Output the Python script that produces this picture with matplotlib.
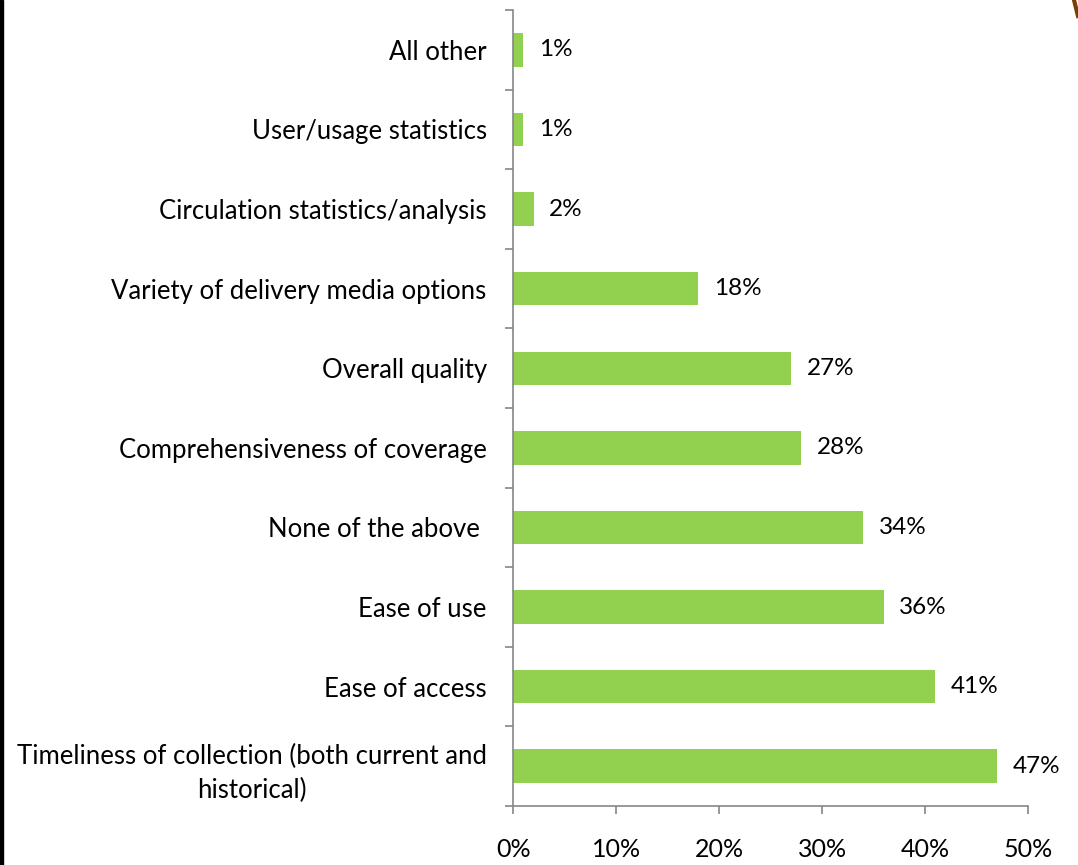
import numpy as np
import matplotlib
matplotlib.use('Agg')
import matplotlib.pyplot as plt
from matplotlib.patches import Rectangle
from matplotlib.lines import Line2D

categories = ['Timeliness of collection (both current and\nhistorical)',
              'Ease of access',
              'Ease of use',
              'None of the above ',
              'Comprehensiveness of coverage',
              'Overall quality',
              'Variety of delivery media options',
              'Circulation statistics/analysis',
              'User/usage statistics',
              'All other']
values = [47, 41, 36, 34, 28, 27, 18, 2, 1, 1]
xticks = [0, 10, 20, 30, 40, 50]

plt.rcParams['font.family'] = ['Lato', 'DejaVu Sans']

fig = plt.figure(figsize=(10.78, 8.65), dpi=100)
ax = fig.add_axes([0.476, 0.0682, 0.4776, 0.9202])

y = np.arange(len(categories))
ax.barh(y, values, height=0.42, color='#92D050', zorder=2)
for yi, v in zip(y, values):
    ax.annotate('%d%%' % v, (v, yi), xytext=(11, 0), textcoords='offset points',
                ha='left', va='center', fontsize=17.5, color='black')

ax.set_xlim(0, 50)
ax.set_ylim(-0.5, len(categories) - 0.5)

ax.set_xticks(xticks)
ax.set_xticklabels(['%d%%' % t for t in xticks], fontsize=18)
ax.tick_params(axis='x', length=6, width=1.2, color='#868686', pad=17)

ax.set_yticks(y)
ax.set_yticklabels(categories, fontsize=18.5, multialignment='center',
                   linespacing=1.45)
ax.tick_params(axis='y', which='major', length=0, pad=19)
ax.set_yticks(np.arange(-0.5, len(categories)), minor=True)
ax.tick_params(axis='y', which='minor', length=6, width=1.2, color='#868686')

for s in ['top', 'right']:
    ax.spines[s].set_visible(False)
for s in ['left', 'bottom']:
    ax.spines[s].set_color('#868686')
    ax.spines[s].set_linewidth(1.2)

# dark strip on the left edge and a bit of brown in the top-right corner
fig.patches.append(Rectangle((0, 0), 3 / 1078, 1, transform=fig.transFigure,
                             color='black', zorder=5))
fig.lines.append(Line2D([1074 / 1078, 1078 / 1078], [1, 1 - 16 / 865],
                        transform=fig.transFigure, color='#7a3d00', lw=3))

fig.savefig('out.png', dpi=100)
plt.close(fig)
